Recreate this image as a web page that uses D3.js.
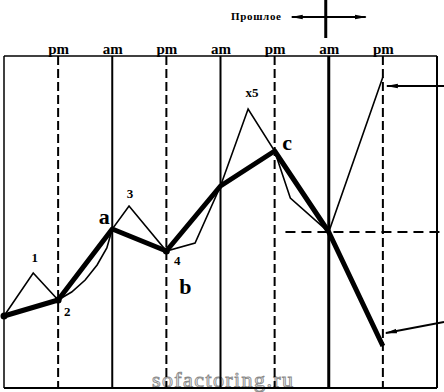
<!DOCTYPE html>
<html><head><meta charset="utf-8">
<script src="https://cdn.jsdelivr.net/npm/d3@7"></script>
<style>body{margin:0;background:#fff}svg{display:block}</style>
</head><body><svg id="c" width="444" height="392"></svg>
<script>
// ---- data ----
const periodIndex = [0,1,2,3,4,5,6,7,8];
const periodLabels = ["", "pm","am","pm","am","pm","am","pm",""];
const periodKinds = ["border","pm","am","pm","am","pm","am","pm","border"];
// thick line (swing points)
const trendX = [0,1,2,3,4,5,6,7];
const trendY = [74,90,161,139,204,239,158,44];
const trendMarks = [true,true,false,true,false,false,false,false];
// thin line (price path)
const priceX = [0,0.54,1,1.25,1.5,1.72,1.9,2,2.31,3,3.53,4,4.51,5,5.29,6,7];
const priceY = [74,117,90,98,110,125,142,161,184,139,147,204,281,239,192,158,313];
// point labels
const smallLabels = [{t:"1",x:0.57,v:128},{t:"2",x:1.17,v:74},{t:"3",x:2.33,v:192},{t:"4",x:3.2,v:125},{t:"x5",x:4.58,v:293}];
const bigLabels = [{t:"a",x:1.85,v:166},{t:"b",x:3.35,v:96},{t:"c",x:5.23,v:240}];
const legendText = "Прошлое";
const watermark = "sofactoring.ru";

// ---- scales ----
const W = 444, H = 392;
const x = d3.scaleLinear().domain([0,8]).range([4,437]);
const y = d3.scaleLinear().domain([0,334]).range([390,56]);
const yTop = y(334), yBottom = 388;

const svg = d3.select("#c");
const defs = svg.append("defs");
defs.append("marker").attr("id","ah").attr("viewBox","0 0 12 6").attr("refX",11).attr("refY",3)
  .attr("markerWidth",12).attr("markerHeight",6).attr("markerUnits","userSpaceOnUse").attr("orient","auto-start-reverse")
  .append("path").attr("d","M0,0.7 L12,3 L0,5.3 Z").attr("fill","#000");

// watermark
svg.append("text").attr("x",152).attr("y",387).attr("font-family","Liberation Serif, serif")
  .attr("font-size",22).attr("fill","#f4f4f4").attr("stroke","#8a8a8a").attr("stroke-width",0.9)
  .attr("textLength",141).text(watermark);

// frame
svg.append("line").attr("x1",x(0)).attr("x2",x(8)).attr("y1",yTop).attr("y2",yTop).attr("stroke","#000").attr("stroke-width",1.5);
svg.append("line").attr("x1",x(0)).attr("x2",x(8)).attr("y1",yBottom).attr("y2",yBottom).attr("stroke","#000").attr("stroke-width",2);

// vertical period lines
svg.selectAll("line.grid").data(periodIndex).join("line").attr("class","grid")
  .attr("x1",d=>x(d)).attr("x2",d=>x(d)).attr("y1",yTop).attr("y2",yBottom)
  .attr("stroke","#000")
  .attr("stroke-width",(d,i)=> i===6?3:(periodKinds[i]==="border"?(i===0?1.5:2):2))
  .attr("stroke-dasharray",(d,i)=> periodKinds[i]==="pm"?"9,4":null);

// period labels
svg.append("g").attr("transform",`translate(0,${yTop-2})`)
  .call(d3.axisTop(x).tickValues(periodIndex.slice(1,8)).tickSize(0).tickFormat(d=>periodLabels[d]))
  .call(g=>g.select(".domain").remove())
  .call(g=>g.selectAll("text").attr("font-family","Liberation Serif, serif").attr("font-size",15)
      .attr("font-weight","bold").attr("fill","#000").attr("dy",0).attr("y",0));

// horizontal dashed level
svg.append("line").attr("x1",x(5.2)).attr("x2",W).attr("y1",y(trendY[6])).attr("y2",y(trendY[6]))
  .attr("stroke","#000").attr("stroke-width",2).attr("stroke-dasharray","10,6");

// thin price line
svg.append("path").datum(priceX.map((d,i)=>[d,priceY[i]]))
  .attr("d",d3.line().x(d=>x(d[0])).y(d=>y(d[1])))
  .attr("fill","none").attr("stroke","#000").attr("stroke-width",1.6).attr("stroke-linejoin","miter");

// thick trend line
svg.append("path").datum(trendX.map((d,i)=>[d,trendY[i]]))
  .attr("d",d3.line().x(d=>x(d[0])).y(d=>y(d[1])))
  .attr("fill","none").attr("stroke","#000").attr("stroke-width",5).attr("stroke-linejoin","round");
svg.selectAll("circle.pt").data(trendX.filter((d,i)=>trendMarks[i])).join("circle").attr("class","pt")
  .attr("cx",d=>x(d)).attr("cy",d=>y(trendY[trendX.indexOf(d)])).attr("r",3.5).attr("fill","#000");

// labels
svg.selectAll("text.sm").data(smallLabels).join("text").attr("class","sm")
  .attr("x",d=>x(d.x)).attr("y",d=>y(d.v)).attr("text-anchor","middle")
  .attr("font-family","Liberation Serif, serif").attr("font-size",13).attr("font-weight","bold").text(d=>d.t);
svg.selectAll("text.bg").data(bigLabels).join("text").attr("class","bg")
  .attr("x",d=>x(d.x)).attr("y",d=>y(d.v)).attr("text-anchor","middle")
  .attr("font-family","Liberation Serif, serif").attr("font-size",22).attr("font-weight","bold").text(d=>d.t);

// right arrows
svg.append("line").attr("x1",W).attr("y1",y(304)).attr("x2",x(7)+4).attr("y2",y(304))
  .attr("stroke","#000").attr("stroke-width",2).attr("marker-end","url(#ah)");
svg.append("line").attr("x1",W).attr("y1",y(68)).attr("x2",x(7)+3).attr("y2",y(57))
  .attr("stroke","#000").attr("stroke-width",2).attr("marker-end","url(#ah)");

// legend cross
svg.append("text").attr("x",231).attr("y",20).attr("font-family","Liberation Serif, serif")
  .attr("font-size",11).attr("font-weight","bold").attr("textLength",50).text(legendText);
svg.append("line").attr("x1",x(6)-37).attr("x2",x(6)+37).attr("y1",17).attr("y2",17)
  .attr("stroke","#000").attr("stroke-width",2).attr("marker-start","url(#ah)").attr("marker-end","url(#ah)");
svg.append("line").attr("x1",x(6)-3).attr("x2",x(6)-3).attr("y1",0).attr("y2",38)
  .attr("stroke","#000").attr("stroke-width",3);
</script></body></html>
